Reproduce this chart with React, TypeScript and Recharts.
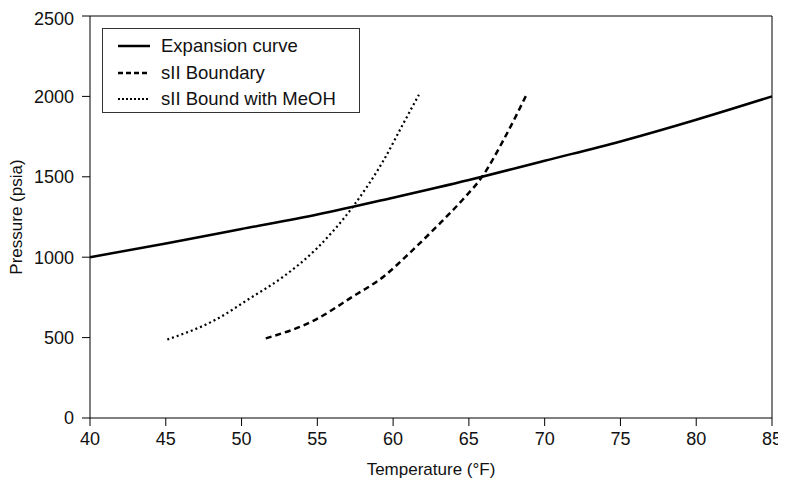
import { LineChart, Line, XAxis, YAxis, ReferenceLine } from "recharts"

// Expansion curve
const expTemp = [40, 45, 50, 55, 60, 65, 70, 75, 80, 85]
const expPress = [1000, 1085, 1175, 1265, 1370, 1480, 1600, 1720, 1855, 2000]

// sII hydrate boundary
const bndTemp = [51.6, 54.9, 57.2, 59.4, 61.1, 62.9, 64.6, 65.9, 67.3, 68.8]
const bndPress = [495, 612, 747, 882, 1027, 1193, 1359, 1504, 1732, 2010]

// sII boundary with methanol
const meohTemp = [45.1, 48.3, 50.6, 52.8, 55.0, 57.4, 59.4, 60.7, 61.7]
const meohPress = [488, 612, 747, 882, 1058, 1321, 1607, 1836, 2010]

const xTicks = [40, 45, 50, 55, 60, 65, 70, 75, 80, 85]
const yTicks = [0, 500, 1000, 1500, 2000, 2500]

const zip = (t: number[], p: number[]) => t.map((x, i) => ({ t: x, p: p[i] }))

const expansion = zip(expTemp, expPress)
const boundary = zip(bndTemp, bndPress)
const meoh = zip(meohTemp, meohPress)

const FONT = "'Liberation Sans', Arial, sans-serif"

const legendItems = [
  { label: "Expansion curve", dash: undefined, width: 2.5 },
  { label: "sII Boundary", dash: "5 3", width: 2.5 },
  { label: "sII Bound with MeOH", dash: "2 2", width: 2 },
]

const LegendBox = () => (
  <div
    style={{
      position: "absolute",
      left: 94,
      top: 20,
      border: "1px solid #333",
      background: "#fff",
      width: 258,
      height: 85,
      boxSizing: "border-box",
      padding: "4px 0 0 14px",
      fontFamily: FONT,
      fontSize: 18.5,
      color: "#111",
    }}
  >
    {legendItems.map((it) => (
      <div key={it.label} style={{ display: "flex", alignItems: "center", height: 26.5 }}>
        <svg width={34} height={10}>
          <line x1={1} y1={5} x2={33} y2={5} stroke="#000" strokeWidth={it.width} strokeDasharray={it.dash} />
        </svg>
        <span style={{ marginLeft: 10 }}>{it.label}</span>
      </div>
    ))}
  </div>
)

export default function App() {
  return (
    <div style={{ position: "relative", width: 778, height: 477 }}>
      <LineChart width={778} height={477} margin={{ top: 8, right: 14, bottom: 0, left: 0 }}>
        <XAxis
          type="number"
          dataKey="t"
          domain={[40, 85]}
          ticks={xTicks}
          allowDuplicatedCategory={false}
          stroke="#000"
          tickSize={8}
          height={67}
          tick={{ fill: "#111", fontSize: 18, fontFamily: FONT }}
          tickMargin={6}
          label={{ value: "Temperature (°F)", position: "insideBottom", offset: 10, fill: "#111", fontSize: 17, fontFamily: FONT }}
        />
        <YAxis
          type="number"
          dataKey="p"
          domain={[0, 2500]}
          ticks={yTicks}
          width={82}
          stroke="#000"
          tickSize={8}
          tickMargin={8}
          tick={{ fill: "#111", fontSize: 18, fontFamily: FONT }}
          label={{ value: "Pressure (psia)", angle: -90, position: "insideLeft", offset: 8, style: { textAnchor: "middle" }, fill: "#111", fontSize: 17, fontFamily: FONT }}
        />
        <ReferenceLine y={2500} stroke="#000" />
        <ReferenceLine x={85} stroke="#000" />
        <Line data={expansion} dataKey="p" type="monotone" stroke="#000" strokeWidth={2.5} dot={false} isAnimationActive={false} />
        <Line data={boundary} dataKey="p" type="monotone" stroke="#000" strokeWidth={2.5} strokeDasharray="6 4" dot={false} isAnimationActive={false} />
        <Line data={meoh} dataKey="p" type="monotone" stroke="#000" strokeWidth={2.2} strokeDasharray="2 3" dot={false} isAnimationActive={false} />
      </LineChart>
      <LegendBox />
    </div>
  )
}
